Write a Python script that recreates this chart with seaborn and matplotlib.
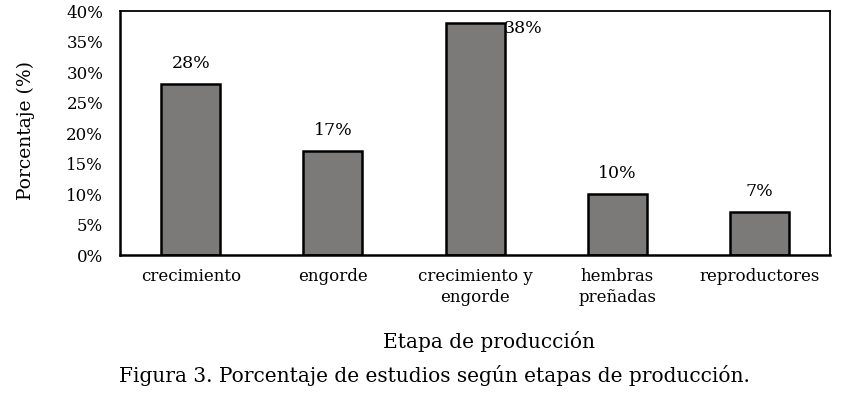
import matplotlib
matplotlib.use("Agg")
import matplotlib.pyplot as plt
import seaborn as sns
import pandas as pd

etapas = ["crecimiento", "engorde", "crecimiento y\nengorde", "hembras\npreñadas", "reproductores"]
porcentajes = [28, 17, 38, 10, 7]
etiquetas = ["28%", "17%", "38%", "10%", "7%"]
yticks = [0, 5, 10, 15, 20, 25, 30, 35, 40]

sns.set_style("white")
plt.rcParams["font.family"] = ["DejaVu Serif"]
plt.rcParams["text.color"] = "black"
plt.rcParams["xtick.color"] = "black"
plt.rcParams["ytick.color"] = "black"
plt.rcParams["axes.labelcolor"] = "black"

df = pd.DataFrame({"etapa": etapas, "pct": porcentajes})

fig = plt.figure(figsize=(8.56, 3.96), dpi=100)
ax = fig.add_axes([0.140, 0.356, 0.830, 0.616])
sns.barplot(data=df, x="etapa", y="pct", color="#7b7a79", width=0.415,
            edgecolor="black", linewidth=1.8, saturation=1, ax=ax)

ax.set_ylim(0, 40)
ax.set_yticks(yticks)
ax.set_yticklabels([f"{t}%" for t in yticks], fontsize=12)
ax.tick_params(axis="x", labelsize=12, length=0, pad=9)
ax.tick_params(axis="y", length=0, pad=12)
for t in ax.get_xticklabels():
    t.set_linespacing(1.35)
ax.set_xlabel("")
ax.set_ylabel("Porcentaje (%)", fontsize=13.5)
ax.yaxis.set_label_coords(-0.12, 0.51)

for spine in ax.spines.values():
    spine.set_visible(True)
    spine.set_color("black")
    spine.set_linewidth(1.3)
ax.spines["left"].set_linewidth(1.8)
ax.spines["bottom"].set_linewidth(1.8)

for i, (v, lab) in enumerate(zip(porcentajes, etiquetas)):
    if v == max(porcentajes):
        ax.text(i + 0.2, v - 0.8, lab, ha="left", va="center", fontsize=12.5)
    else:
        ax.text(i, v + 3.4, lab, ha="center", va="center", fontsize=12.5)

fig.text(0.571, 0.138, "Etapa de producción", ha="center", va="center", fontsize=14.5)
fig.text(0.508, 0.052, "Figura 3. Porcentaje de estudios según etapas de producción.",
         ha="center", va="center", fontsize=14.5)

fig.savefig("out.png", dpi=100)
plt.close(fig)
